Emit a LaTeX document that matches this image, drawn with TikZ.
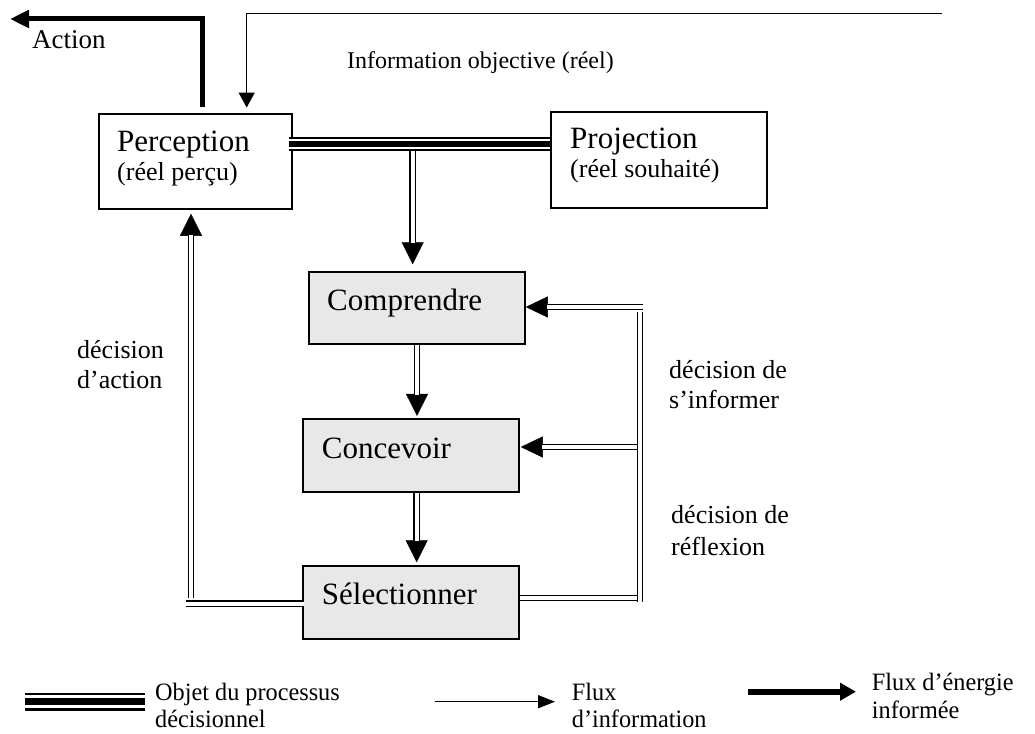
\documentclass[tikz,border=0pt]{standalone}
\usepackage{fontspec}
\setmainfont{Liberation Serif}
\usetikzlibrary{arrows.meta,calc}
\definecolor{boxgray}{RGB}{232,232,232}
\begin{document}
\begin{tikzpicture}[x=1pt,y=-1pt,
  box/.style={draw, line width=1.5pt, inner sep=0pt},
  gbox/.style={box, fill=boxgray},
  dbl/.style={draw, line width=1.6pt, double=white, double distance=3.6pt},
  tipD/.style={line width=0.3pt, -{Triangle[length=22pt,width=22pt]}},
  infol/.style={line width=1.3pt},
  big/.style={font=\fontsize{31}{36}\selectfont, inner sep=0pt, anchor=base west},
  med/.style={font=\fontsize{26}{30}\selectfont, inner sep=0pt, anchor=base west},
  leg/.style={font=\fontsize{25}{29}\selectfont, inner sep=0pt, anchor=base west},
]
\useasboundingbox (0,0) rectangle (1035,733);

% boxes
\node[box, minimum width=193pt, minimum height=95pt] (perc) at (195.5,161.5) {};
\node[box, minimum width=216pt, minimum height=96pt] (proj) at (659,160) {};
\node[gbox, minimum width=216pt, minimum height=72pt] (comp) at (417,308) {};
\node[gbox, minimum width=216pt, minimum height=73pt] (conc) at (411,455.5) {};
\node[gbox, minimum width=216pt, minimum height=73pt] (sel) at (411,602.5) {};

% box texts
\node[big] (tperc) at (117,151.7) {Perception};
\node[med] (tperc2) at (117,180) {(réel perçu)};
\node[big] (tproj) at (570,148.3) {Projection};
\node[med] (tproj2) at (570,177) {(réel souhaité)};
\node[big] (tcomp) at (327,310) {Comprendre};
\node[big] (tconc) at (321.7,458.3) {Concevoir};
\node[big] (tsel) at (321.7,604) {Sélectionner};

% labels
\node[font=\fontsize{27}{30}\selectfont, inner sep=0pt, anchor=base west] (lact) at (32,48.3) {Action};
\node[font=\fontsize{24}{28}\selectfont, inner sep=0pt, anchor=base west] (linfo) at (347,68.3) {Information objective (réel)};
\node[med] (la1) at (77,358) {décision};
\node[med] (la2) at (77,388) {d’action};
\node[med] (lb1) at (669,378) {décision de};
\node[med] (lb2) at (669,408) {s’informer};
\node[med] (lc1) at (671,523) {décision de};
\node[med] (lc2) at (671,555) {réflexion};

% information flow (top)
\coordinate (infoR) at (942,13.3);
\coordinate (infoC) at (246.7,13.3);
\draw[infol, -{Triangle[length=15pt,width=16pt]}] (infoR) -- (infoC) -- ($(perc.north)+(51.2,-5.7)$);

% action (energy)
\coordinate (actC) at (202,19);
\coordinate (actE) at (10,19);
\draw[line width=5pt, -{Triangle[length=19pt,width=17pt]}] ($(perc.north)+(6.5,-6)$) -- (actC) -- (actE);

% triple line Perception - Projection
\coordinate (tripY) at (0,144.2);
\coordinate (tripA) at ([xshift=-4pt]perc.east |- tripY);
\coordinate (tripB) at (proj.west |- tripY);
\draw[line width=1.8pt, double=white, double distance=10pt] (tripA) -- (tripB);
\draw[line width=6pt] (tripA) -- (tripB);

% down to Comprendre
\coordinate (jn) at (412.7,150.5);
\coordinate (jnEnd) at ($(comp.north)+(-4.3,-7)$);
\draw[tipD] (jn) -- (jnEnd);
\draw[dbl, shorten >=21pt] (jn) -- (jnEnd);

% Comprendre -> Concevoir
\coordinate (c2a) at ($(comp.south)+(0,0)$);
\coordinate (c2b) at ($(conc.north)+(6,-2.3)$);
\draw[tipD] (c2a) -- (c2b);
\draw[dbl, shorten >=21pt] (c2a) -- (c2b);

% Concevoir -> Selectionner
\coordinate (c3a) at ($(conc.south)+(5.7,0)$);
\coordinate (c3b) at ($(sel.north)+(5.7,-3)$);
\draw[tipD] (c3a) -- (c3b);
\draw[dbl, shorten >=21pt] (c3a) -- (c3b);

% right loop
\coordinate (rTop) at (643,307);
\coordinate (rMid) at (637.5,447);
\coordinate (rV1) at (640,311.5);
\coordinate (rV2) at (640,602);
\coordinate (rBot) at (638,598);
\coordinate (toComp) at ($(comp.east)+(0,-1)$);
\coordinate (toConc) at ($(conc.east)+(1,-8.5)$);
\draw[tipD, -{Triangle[length=22pt,width=21pt]}] (rTop) -- (toComp);
\draw[dbl, shorten >=21pt] (rTop) -- (toComp);
\draw[tipD, -{Triangle[length=22pt,width=21pt]}] (rMid) -- (toConc);
\draw[dbl, shorten >=21pt] (rMid) -- (toConc);
\draw[dbl] ($(sel.east)+(0,-4.5)$) -- (rBot);
\draw[dbl] (rV2) -- (rV1);

% left loop
\coordinate (lBot) at (191,598);
\coordinate (lH) at (186,603.7);
\coordinate (toPerc) at ($(perc.south)+(-4.5,4)$);
\draw[tipD] (lBot) -- (toPerc);
\draw[dbl, shorten >=21pt] (lBot) -- (toPerc);
\draw[dbl] (lH) -- ($(sel.west)+(2,1.2)$);

% legend
\coordinate (lg1a) at (25,701.5);
\coordinate (lg1b) at (145,701.5);
\draw[line width=2.5pt, double=white, double distance=13pt] (lg1a) -- (lg1b);
\draw[line width=7pt] (lg1a) -- (lg1b);
\node[leg] (lt1a) at (155,700) {\scalebox{0.97}[1]{Objet du processus}};
\node[leg] (lt1b) at (155,727) {\scalebox{0.97}[1]{décisionnel}};

\coordinate (lg2a) at (435,701.7);
\coordinate (lg2b) at (555,701.7);
\draw[line width=1.5pt, -{Triangle[length=17pt,width=13pt]}] (lg2a) -- (lg2b);
\node[leg] (lt2a) at (571.7,700) {\scalebox{0.97}[1]{Flux}};
\node[leg] (lt2b) at (571.7,727) {\scalebox{0.97}[1]{d’information}};

\coordinate (lg3a) at (748,691.7);
\coordinate (lg3b) at (856,691.7);
\draw[line width=6pt, -{Triangle[length=16pt,width=17pt]}] (lg3a) -- (lg3b);
\node[leg] (lt3a) at (871.7,690) {\scalebox{0.97}[1]{Flux d’énergie}};
\node[leg] (lt3b) at (871.7,718) {\scalebox{0.97}[1]{informée}};
\end{tikzpicture}
\end{document}
